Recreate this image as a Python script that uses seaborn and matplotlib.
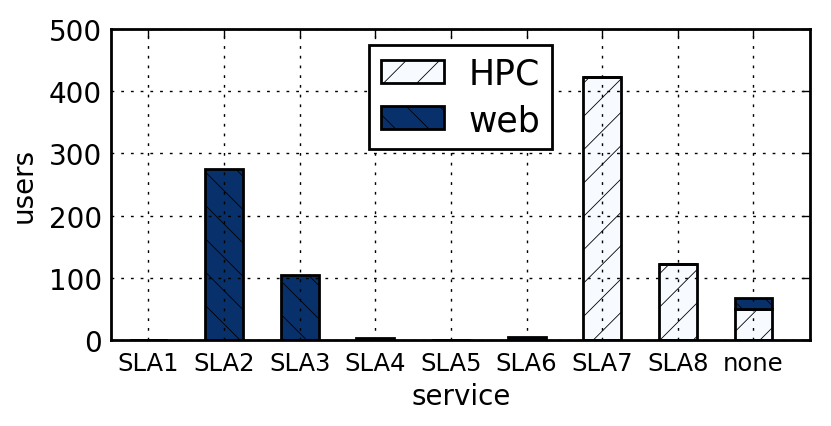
import numpy as np
import pandas as pd
import seaborn as sns
import matplotlib
matplotlib.use("Agg")
import matplotlib.pyplot as plt
from matplotlib.patches import Patch

servicios = ["SLA1", "SLA2", "SLA3", "SLA4", "SLA5", "SLA6", "SLA7", "SLA8", "none"]
hpc = [0, 0, 0, 0, 0, 0, 423, 122, 50]
web = [0, 275, 104, 3, 0, 5, 0, 0, 18]

color_hpc = "#f7fbff"
color_web = "#08306b"

sns.set_style("white")
plt.rcParams["font.family"] = ["DejaVu Sans"]
plt.rcParams["text.color"] = "black"
plt.rcParams["axes.labelcolor"] = "black"
plt.rcParams["xtick.color"] = "black"
plt.rcParams["ytick.color"] = "black"
plt.rcParams["hatch.color"] = "#777777"
plt.rcParams["hatch.linewidth"] = 0.6

datos = pd.DataFrame({"service": servicios, "HPC": hpc, "web": web})

fig = plt.figure(figsize=(8.31, 4.27), dpi=100)
ax = fig.add_axes([0.134, 0.201, 0.841, 0.729])

sns.barplot(data=datos, x="service", y="HPC", color=color_hpc, width=0.5,
            edgecolor="black", linewidth=2, ax=ax, saturation=1)
n = len(ax.patches)
sns.barplot(data=datos, x="service", y="web", color=color_web, width=0.5,
            edgecolor="black", linewidth=2, ax=ax, saturation=1, bottom=datos["HPC"])

for i, p in enumerate(ax.patches):
    p.set_hatch("/" if i < n else "\\")

ax.set_xlim(-0.49, 8.75)
ax.set_ylim(0, 500)
ax.set_yticks([0, 100, 200, 300, 400, 500])
ax.set_xlabel("service", fontsize=20, labelpad=5)
ax.set_ylabel("users", fontsize=20, labelpad=8)
ax.tick_params(axis="y", labelsize=20, direction="in", length=6, width=1, right=True, pad=7)
ax.tick_params(axis="x", labelsize=17.5, direction="in", length=6, width=1, top=True, pad=8)

ax.grid(True, color="black", linestyle=(0, (2, 5)), linewidth=1)
ax.set_axisbelow(False)
for s in ax.spines.values():
    s.set_linewidth(2)
    s.set_color("black")

handles = [Patch(facecolor=color_hpc, edgecolor="black", linewidth=2, hatch="/", label="HPC"),
           Patch(facecolor=color_web, edgecolor="black", linewidth=2, hatch="\\", label="web")]
leg = ax.legend(handles=handles, loc="upper center", bbox_to_anchor=(0.5, 0.949),
                borderaxespad=0, fontsize=25, fancybox=False, framealpha=1, edgecolor="black",
                handlelength=1.8, handleheight=0.65, borderpad=0.35, labelspacing=0.35,
                handletextpad=0.7)
leg.get_frame().set_linewidth(2)

plt.savefig("out.png", dpi=100)
